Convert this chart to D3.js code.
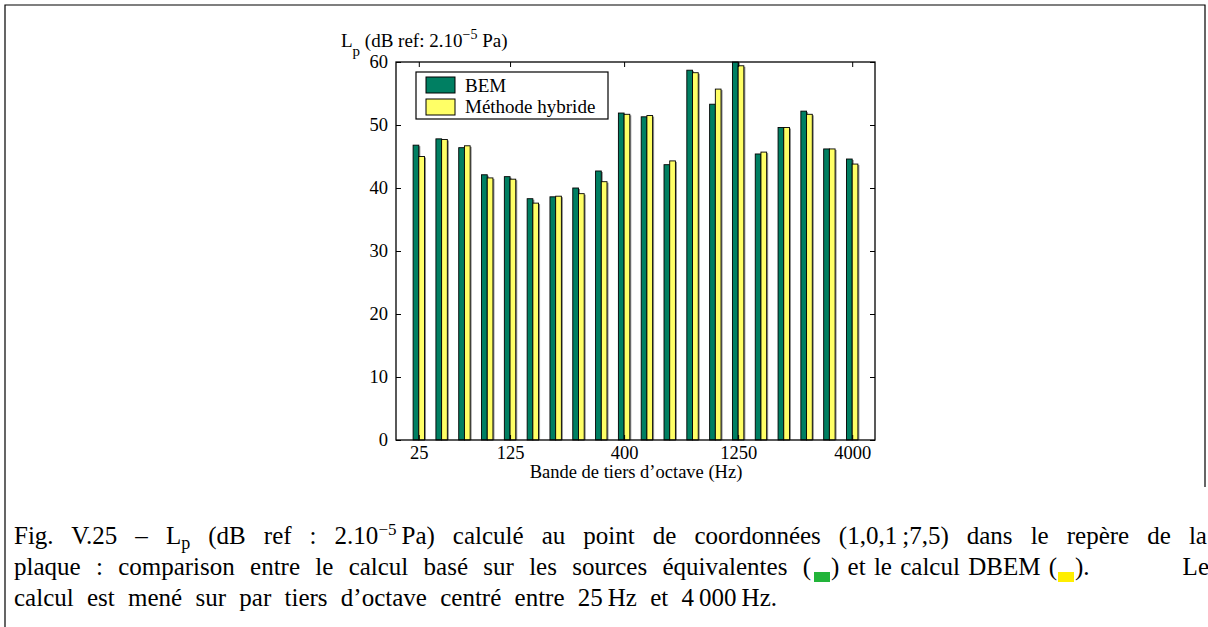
<!DOCTYPE html>
<html>
<head>
<meta charset="utf-8">
<script src="https://cdn.jsdelivr.net/npm/d3@7"></script>
<style>
  body { margin: 0; background: #fff; }
  svg { display: block; }
</style>
</head>
<body>
<div id="chart"></div>
<script>
// band index of each pair of bars (tiers d'octave)
const bands = [1, 2, 3, 4, 5, 6, 7, 8, 9, 10, 11, 12, 13, 14, 15, 16, 17, 18, 19, 20];
// Lp values (dB)
const bemValues = [46.8, 47.8, 46.4, 42.1, 41.8, 38.3, 38.6, 40.0, 42.7, 51.9,
  51.3, 43.7, 58.7, 53.3, 60.0, 45.4, 49.6, 52.2, 46.2, 44.6];
const hybridValues = [45.0, 47.7, 46.7, 41.6, 41.4, 37.6, 38.7, 39.1, 41.0, 51.7,
  51.5, 44.3, 58.3, 55.7, 59.4, 45.7, 49.6, 51.7, 46.2, 43.8];
// x tick positions and their labels
const tickBands = [1, 5, 10, 15, 20];
const tickLabels = ["25", "125", "400", "1250", "4000"];
const yTicks = [0, 10, 20, 30, 40, 50, 60];
const seriesNames = ["BEM", "Méthode hybride"];
const seriesColors = ["#007f62", "#ffff66"];

const SERIF = "'Liberation Serif', 'Times New Roman', serif";
const W = 1208, H = 627;
const svg = d3.select("#chart").append("svg")
  .attr("width", W).attr("height", H)
  .attr("font-family", SERIF);

// outer figure frame
svg.append("path")
  .attr("d", "M5,627 V5 H1205 V487")
  .attr("fill", "none").attr("stroke", "#000").attr("stroke-width", 1.2);

// plot area
const x = d3.scaleLinear().domain([0, 21]).range([396, 875]);
const y = d3.scaleLinear().domain([0, 60]).range([440, 62]);
const barW = (x(1) - x(0)) * 0.25;

const table = bands.map((b, i) => ({ band: b, values: [bemValues[i], hybridValues[i]] }));

const g = svg.append("g");

// shadows first, then bars
table.forEach(function (d) {
  d.values.forEach(function (v, s) {
    const bx = x(d.band) + (s === 0 ? -barW : 0);
    g.append("rect")
      .attr("x", bx + 1.5).attr("y", y(v) + 1)
      .attr("width", barW).attr("height", y(0) - y(v) - 1)
      .attr("fill", "#8c8c8c");
  });
});
table.forEach(function (d) {
  d.values.forEach(function (v, s) {
    const bx = x(d.band) + (s === 0 ? -barW : 0);
    g.append("rect")
      .attr("x", bx).attr("y", y(v))
      .attr("width", barW).attr("height", y(0) - y(v))
      .attr("fill", seriesColors[s])
      .attr("stroke", "#000").attr("stroke-width", 0.9);
  });
});

// axes box with inward ticks
const axisFont = function (sel) {
  sel.attr("font-family", SERIF);
  sel.selectAll("text")
    .style("font-size", "18.5px")
    .attr("fill", "#000");
  sel.selectAll("line").attr("stroke", "#000");
  sel.select(".domain").remove();
};

svg.append("g")
  .attr("transform", "translate(" + x(0) + ",0)")
  .call(d3.axisLeft(y).tickValues(yTicks).tickSizeInner(-5).tickSizeOuter(0).tickPadding(8))
  .call(axisFont);
svg.append("g")
  .attr("transform", "translate(" + x(21) + ",0)")
  .call(d3.axisRight(y).tickValues(yTicks).tickSizeInner(-5).tickSizeOuter(0).tickFormat(""))
  .call(axisFont);
svg.append("g")
  .attr("transform", "translate(0," + y(0) + ")")
  .call(d3.axisBottom(x).tickValues(tickBands).tickSizeInner(-5).tickSizeOuter(0).tickPadding(6)
    .tickFormat(function (d, i) { return tickLabels[i]; }))
  .call(axisFont);
svg.append("g")
  .attr("transform", "translate(0," + y(60) + ")")
  .call(d3.axisTop(x).tickValues(tickBands).tickSizeInner(-5).tickSizeOuter(0).tickFormat(""))
  .call(axisFont);

svg.append("rect")
  .attr("x", x(0)).attr("y", y(60))
  .attr("width", x(21) - x(0)).attr("height", y(0) - y(60))
  .attr("fill", "none").attr("stroke", "#000").attr("stroke-width", 1.3);

// y axis title
const yt = svg.append("text")
  .attr("x", 341).attr("y", 47).style("font-size", "19px");
yt.append("tspan").text("L");
yt.append("tspan").attr("dy", 9).style("font-size", "15px").text("p");
yt.append("tspan").attr("dy", -9).text(" (dB ref: 2.10");
yt.append("tspan").attr("dy", -8).style("font-size", "14px").text("−5");
yt.append("tspan").attr("dy", 8).text(" Pa)");

// x axis title
svg.append("text")
  .attr("x", 636).attr("y", 478)
  .attr("text-anchor", "middle")
  .style("font-size", "18.5px")
  .text("Bande de tiers d\u2019octave (Hz)");

// legend
const legend = svg.append("g").attr("transform", "translate(416,72)");
legend.append("rect")
  .attr("width", 192).attr("height", 47)
  .attr("fill", "#fff").attr("stroke", "#000").attr("stroke-width", 1.2);
seriesNames.forEach(function (name, i) {
  legend.append("rect")
    .attr("x", 10).attr("y", 5 + i * 22)
    .attr("width", 29).attr("height", 16)
    .attr("fill", seriesColors[i]).attr("stroke", "#000").attr("stroke-width", 1);
  legend.append("text")
    .attr("x", 49).attr("y", 20 + i * 21)
    .style("font-size", "19px")
    .text(name);
});

// caption: size picked so the last line has its natural width, others justified
const cap = svg.append("g").style("font-size", "22px");
function justify(t, width) {
  const len = t.node().getComputedTextLength();
  const spaces = (t.text().match(/ /g) || []).length;
  if (spaces > 0) t.attr("word-spacing", (width - len) / spaces);
}

const l3 = cap.append("text").attr("x", 14).attr("y", 606)
  .text("calcul est mené sur par tiers d\u2019octave centré entre 25\u2009Hz et 4\u2009000\u2009Hz.");
const capSize = Math.min(25, 22 * 763 / l3.node().getComputedTextLength());
cap.style("font-size", capSize + "px");
justify(l3, 763);

const l1 = cap.append("text").attr("x", 14).attr("y", 544);
l1.append("tspan").text("Fig. V.25 – L");
l1.append("tspan").attr("dy", 5).style("font-size", (capSize * 0.72) + "px").text("p");
l1.append("tspan").attr("dy", -5).text(" (dB ref : 2.10");
l1.append("tspan").attr("dy", -9).style("font-size", (capSize * 0.68) + "px").text("−5");
l1.append("tspan").attr("dy", 9).text("\u2009Pa) calculé au point de coordonnées (1,0,1\u2009;7,5) dans le repère de la");
justify(l1, 1193);

const l2a = cap.append("text").attr("x", 14).attr("y", 575)
  .text("plaque : comparison entre le calcul basé sur les sources équivalentes (");
justify(l2a, 797);
cap.append("rect").attr("x", 814).attr("y", 572).attr("width", 16).attr("height", 10).attr("fill", "#22b43a");
const l2b = cap.append("text").attr("x", 831).attr("y", 575)
  .text(") et le calcul DBEM (");
justify(l2b, 226);
cap.append("rect").attr("x", 1058).attr("y", 572).attr("width", 16).attr("height", 10).attr("fill", "#ffee00");
const l2c = cap.append("text").attr("x", 1075).attr("y", 575)
  .text("). Le");
justify(l2c, 134);
</script>
</body>
</html>
